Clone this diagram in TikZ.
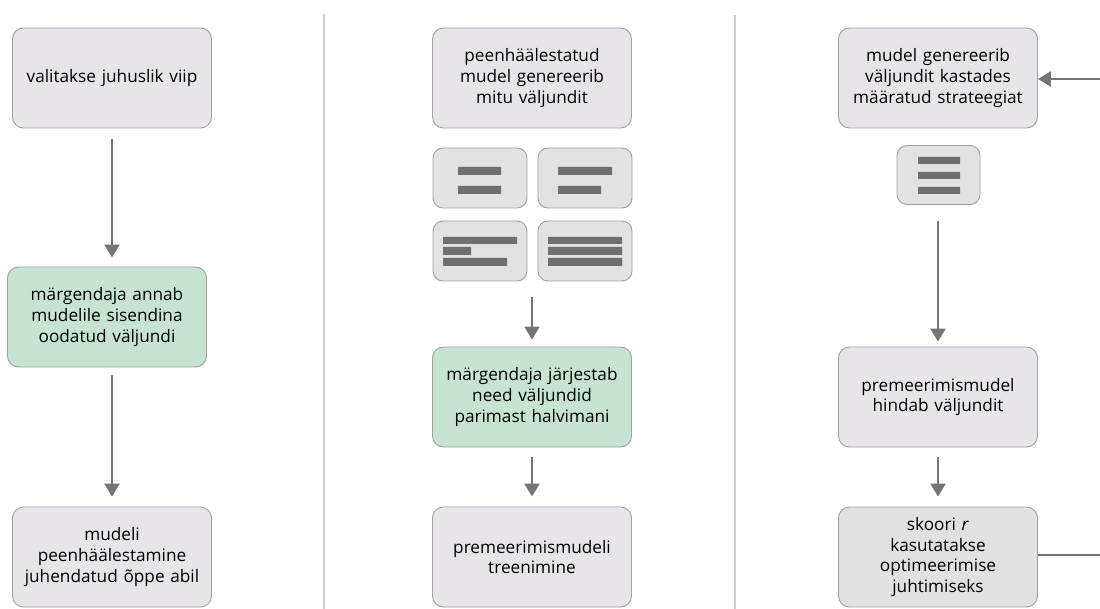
\documentclass[tikz,border=0pt]{standalone}
\usepackage{fontspec}
\setmainfont{Open Sans}
\usetikzlibrary{arrows.meta}
\definecolor{boxgray}{HTML}{E7E5EA}
\definecolor{chipgray}{HTML}{E2E2E2}
\definecolor{scoregray}{HTML}{E1E1E1}
\definecolor{labelgreen}{HTML}{C6E3D3}
\definecolor{edgegray}{HTML}{A0A0A0}
\definecolor{arrowgray}{HTML}{757575}
\definecolor{rulegray}{HTML}{CFCFCF}
\tikzstyle{every node}=[font=\fontsize{17.2}{20.8}\selectfont]
\tikzstyle{stage}=[draw=edgegray,line width=0.9pt,fill=boxgray,rounded corners=11pt,
  minimum width=199pt,minimum height=100pt,text width=195pt,align=center,inner sep=0pt]
\tikzstyle{labeled}=[stage,fill=labelgreen]
\tikzstyle{chip}=[draw=edgegray,line width=0.9pt,fill=chipgray,rounded corners=10pt,
  minimum width=94pt,minimum height=60pt,inner sep=0pt]
\tikzstyle{bar}=[fill=arrowgray!95!black]
\tikzstyle{flow}=[draw=arrowgray,line width=2.8pt,-{Triangle[width=15pt,length=13pt]}]
\tikzstyle{divider}=[draw=rulegray,line width=1.6pt]

\begin{document}
\begin{tikzpicture}[x=1pt,y=-1pt]
  \useasboundingbox (0,0) rectangle (1100,609);

  % column dividers
  \draw[divider] (324,14) -- (324,609);
  \draw[divider] (735,15) -- (735,609);

  % supervised fine-tuning
  \node[stage]   (prompt)  at (112,78)  {valitakse juhuslik viip};
  \node[labeled] (demo)    at (107,317) {märgendaja annab\\ mudelile sisendina\\ oodatud väljundi};
  \node[stage]   (sft)     at (112,557) {mudeli\\ peenhäälestamine\\ juhendatud õppe abil};
  \draw[flow,shorten <=11pt,shorten >=9pt] (prompt.south) -- (prompt.south |- demo.north);
  \draw[flow,shorten <=8pt,shorten >=10pt] (prompt.south |- demo.south) -- (sft.north);

  % reward model training
  \node[stage]   (sample)  at (532,78)  {peenhäälestatud\\ mudel genereerib\\ mitu väljundit};
  \node[chip] (outA) at (480,178) {};
  \node[chip] (outB) at (585,178) {};
  \node[chip] (outC) at (480,251) {};
  \node[chip] (outD) at (585,251) {};
  \fill[bar] (458,167) rectangle (501,175) (458,186) rectangle (501,194);
  \fill[bar] (558,167) rectangle (612,175) (558,186) rectangle (601,194);
  \fill[bar] (443,237) rectangle (517,244) (443,247) rectangle (471,255)
             (443,258) rectangle (507,266);
  \fill[bar] (548,237) rectangle (622,244) (548,247) rectangle (622,255)
             (548,258) rectangle (622,266);
  \node[labeled] (rank)    at (532,397) {märgendaja järjestab\\ need väljundid\\ parimast halvimani};
  \node[stage]   (rmtrain) at (532,557) {premeerimismudeli\\ treenimine};
  \draw[flow,shorten <=16pt,shorten >=7pt] (rank.north |- outC.south) -- (rank.north);
  \draw[flow,shorten <=10pt,shorten >=10pt] (rank.south) -- (rmtrain.north);

  % optimisation against the reward model
  \node[stage]   (policy)  at (938,78)  {mudel genereerib\\ väljundit kastades\\ määratud strateegiat};
  \node[chip,minimum width=83pt,minimum height=59pt] (single) at (938.5,175) {};
  \fill[bar] (918,157) rectangle (960,164) (918,172) rectangle (960,179)
             (918,187) rectangle (960,194);
  \node[stage]   (score)   at (938,397) {premeerimismudel\\ hindab väljundit};
  \node[stage,fill=scoregray] (reward) at (938,557) {skoori \textit{r}\\ kasutatakse\\ optimeerimise\\ juhtimiseks};
  \draw[flow,shorten <=16pt,shorten >=5pt] (single.south -| score.north) -- (score.north);
  \draw[flow,shorten <=10pt,shorten >=10pt] (score.south) -- (reward.north);

  % feedback into the policy
  \coordinate (loopin)  at (1100,79);
  \coordinate (loopout) at (1100,555);
  \draw[flow] (loopin) -- (policy.east |- loopin);
  \draw[draw=arrowgray,line width=2.8pt] (reward.east |- loopout) -- (loopout);
\end{tikzpicture}
\end{document}
